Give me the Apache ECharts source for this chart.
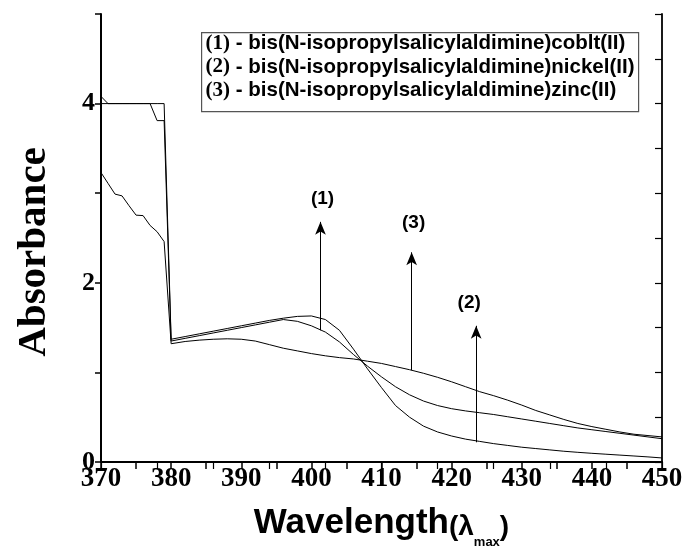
<!DOCTYPE html>
<html>
<head>
<meta charset="utf-8">
<script src="https://cdn.jsdelivr.net/npm/echarts@6/dist/echarts.min.js"></script>
<style>html,body{margin:0;padding:0;background:#fff}#c{width:685px;height:550px}</style>
</head>
<body>
<div id="c"></div>
<script>
// Wavelength (nm)
const wavelengths = [370,371,372,373,374,375,376,377,378,379,
  380,382,384,386,388,390,392,394,396,398,
  400,402,404,406,408,410,412,414,416,418,
  420,422,424,426,428,430,432,434,436,438,
  440,442,444,446,448,450];
// (1) cobalt
const cobalt = [4.08,4.0,4.0,4.0,4.0,4.0,4.0,4.0,3.81,3.81,
  1.35,1.38,1.41,1.44,1.47,1.50,1.53,1.56,1.59,1.57,
  1.52,1.45,1.34,1.20,1.07,0.95,0.84,0.75,0.68,0.63,
  0.595,0.57,0.55,0.53,0.505,0.48,0.455,0.43,0.405,0.38,
  0.36,0.34,0.32,0.30,0.28,0.26];
// (2) nickel
const nickel = [4.0,4.0,4.0,4.0,4.0,4.0,4.0,4.0,4.0,4.0,
  1.37,1.40,1.43,1.46,1.49,1.52,1.55,1.58,1.605,1.625,
  1.63,1.59,1.47,1.26,1.04,0.83,0.63,0.50,0.40,0.335,
  0.29,0.255,0.23,0.205,0.185,0.165,0.15,0.135,0.12,0.108,
  0.097,0.087,0.077,0.067,0.057,0.045];
// (3) zinc
const zinc = [3.23,3.11,2.99,2.97,2.86,2.755,2.75,2.64,2.57,2.46,
  1.32,1.345,1.36,1.37,1.375,1.37,1.35,1.31,1.27,1.24,
  1.21,1.185,1.165,1.15,1.125,1.10,1.065,1.03,0.99,0.945,
  0.895,0.84,0.785,0.74,0.69,0.635,0.575,0.525,0.475,0.43,
  0.395,0.365,0.335,0.31,0.295,0.28];

const legendLabels = ['(1)','(2)','(3)'];
const legendNames = [' - bis(N-isopropylsalicylaldimine)coblt(II)',
  ' - bis(N-isopropylsalicylaldimine)nickel(II)',
  ' - bis(N-isopropylsalicylaldimine)zinc(II)'];

// Arrow annotations
const arrowLabels = ['(1)','(3)','(2)'];
const arrowX = [401.3, 414.3, 423.5];
const arrowFrom = [1.47, 1.025, 0.22];
const arrowTo = [2.68, 2.34, 1.52];

const xTicks = [370,380,390,400,410,420,430,440,450];
const yTicks = [0,2,4];

const pair = (ys) => wavelengths.map((x,i)=>[x, ys[i]]);

const chart = echarts.init(document.getElementById('c'), null, {renderer:'canvas'});

const serif = 'Liberation Serif';
const sans = 'Liberation Sans';

const arrowDist = [14, 20, 14];
const arrowData = arrowX.map((x,i)=>[
  {coord:[x, arrowFrom[i]]},
  {coord:[x, arrowTo[i]], label:{formatter: arrowLabels[i], distance: arrowDist[i], offset: i===2 ? [-7,0] : [2,0]}}
]);

const lineStyle = {color:'#000', width:1};

const option = {
  animation:false,
  backgroundColor:'#fff',
  grid:{left:101, right:23, top:14, bottom:88, containLabel:false, outerBoundsMode:'none'},
  xAxis:[{
    type:'value', min:370, max:450, interval:5, position:'bottom',
    axisLine:{lineStyle:{color:'#000', width:2}},
    axisTick:{inside:false, length:7, lineStyle:{color:'#000', width:1.5}},
    axisLabel:{formatter:(v)=> xTicks.includes(v) ? String(v) : '', color:'#000',
      fontFamily:serif, fontWeight:'bold', fontSize:27, margin:4},
    splitLine:{show:false},
    name:'{w|Wavelength}{p|(λ}{s|max}{p|)}',
    nameLocation:'middle', nameGap:44,
    nameTextStyle:{rich:{
      w:{fontFamily:sans, fontWeight:'bold', fontSize:35, color:'#000', verticalAlign:'bottom', padding:[0,0,8,0]},
      p:{fontFamily:sans, fontWeight:'bold', fontSize:28, color:'#000', verticalAlign:'bottom', padding:[0,0,8,0]},
      s:{fontFamily:sans, fontWeight:'bold', fontSize:13, color:'#000', verticalAlign:'bottom', padding:[0,0,0,0]}
    }}
  },{
    type:'value', min:0, max:10, interval:1, position:'top',
    axisLine:{lineStyle:{color:'#000', width:1.8}},
    axisTick:{inside:true, length:7, lineStyle:{color:'#000', width:1.2}},
    axisLabel:{show:false}, splitLine:{show:false}
  }],
  yAxis:[{
    type:'value', min:0, max:5, interval:1, position:'left',
    axisLine:{lineStyle:{color:'#000', width:2}},
    axisTick:{inside:false, length:6, lineStyle:{color:'#000', width:1.5}},
    axisLabel:{formatter:(v)=> yTicks.includes(v) ? String(v) : '', color:'#000',
      fontFamily:serif, fontWeight:'bold', fontSize:26, margin:6},
    splitLine:{show:false},
    name:'Absorbance', nameLocation:'middle', nameGap:46, nameRotate:90,
    nameTextStyle:{fontFamily:serif, fontWeight:'bold', fontSize:41, color:'#000', padding:[0,28,0,0]}
  },{
    type:'value', min:0, max:10, interval:1, position:'right',
    axisLine:{lineStyle:{color:'#000', width:1.8}},
    axisTick:{inside:true, length:7, lineStyle:{color:'#000', width:1.2}},
    axisLabel:{show:false}, splitLine:{show:false}
  }],
  series:[
    {type:'line', name:'cobalt', data:pair(cobalt), showSymbol:false, lineStyle, itemStyle:{color:'#000'},
      markLine:{silent:true, symbol:['none','arrow'], symbolSize:[8,13],
        lineStyle:{color:'#000', width:1, type:'solid'},
        label:{position:'end', color:'#000', fontFamily:sans, fontWeight:'bold', fontSize:19},
        data:arrowData}},
    {type:'line', name:'nickel', data:pair(nickel), showSymbol:false, lineStyle, itemStyle:{color:'#000'}},
    {type:'line', name:'zinc', data:pair(zinc), showSymbol:false, lineStyle, itemStyle:{color:'#000'}}
  ],
  graphic:[{
    type:'group', left:201, top:32,
    children:[
      {type:'rect', shape:{x:0,y:0,width:437,height:79}, style:{fill:'#fff', stroke:'#555', lineWidth:1.2}},
      ...legendNames.map((n,i)=>({
        type:'text', x:4, y:11 + i*23.3,
        style:{text:'{a|'+legendLabels[i]+'}{b|'+n+'}', verticalAlign:'middle',
          rich:{
            a:{fontFamily:serif, fontWeight:'bold', fontSize:21, fill:'#000'},
            b:{fontFamily:sans, fontWeight:'bold', fontSize:20.5, fill:'#000'}
          }}
      }))
    ]
  }]
};
chart.setOption(option);
</script>
</body>
</html>
